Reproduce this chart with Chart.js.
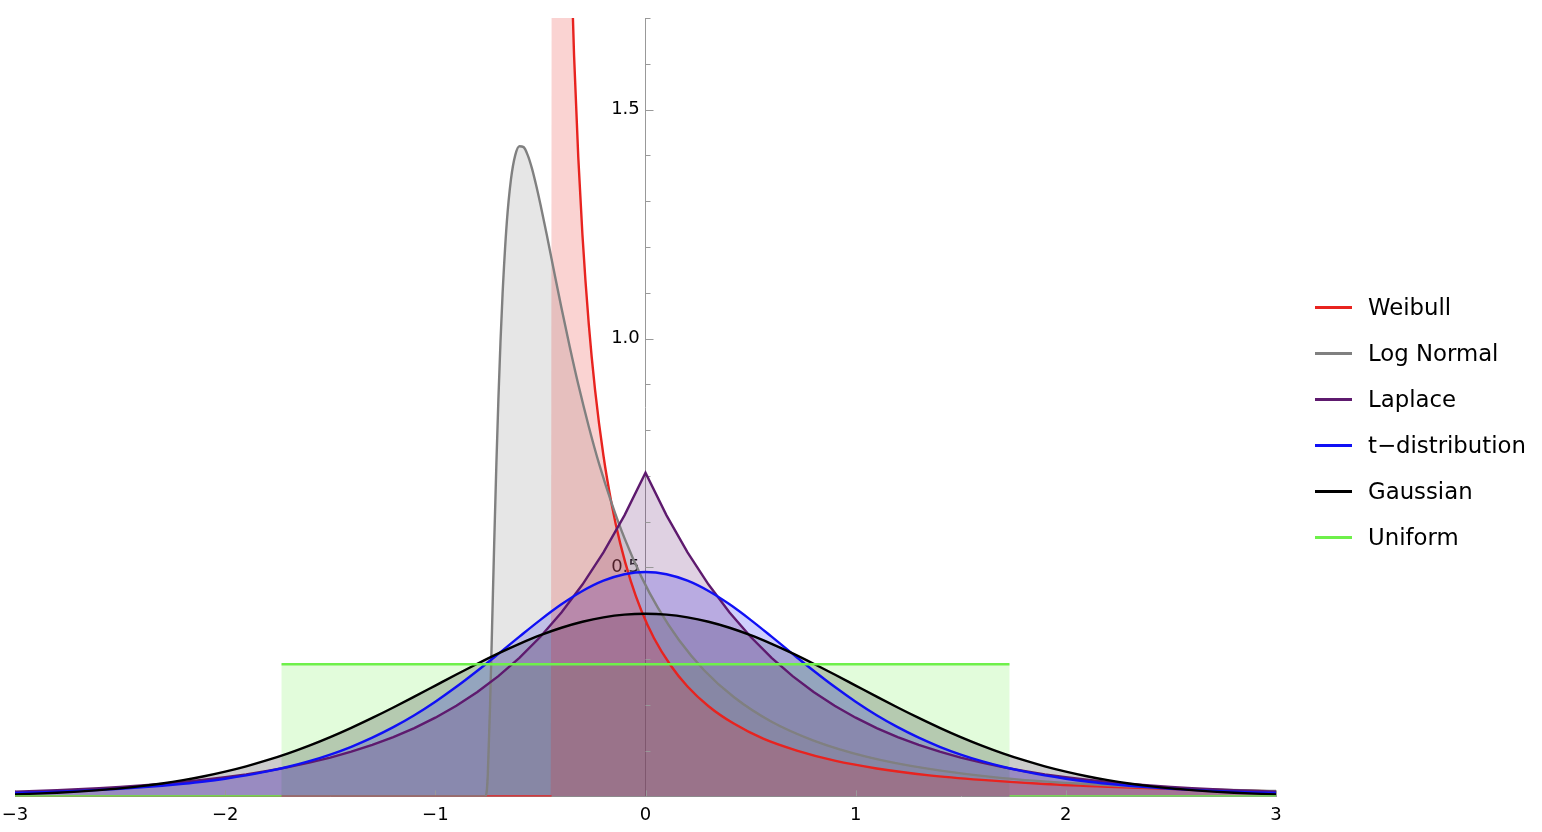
<!DOCTYPE html>
<html>
<head>
<meta charset="utf-8">
<script src="https://cdn.jsdelivr.net/npm/chart.js@4.4.1/dist/chart.umd.min.js"></script>
<style>
  body { margin: 0; background: #fff; }
  #wrap { position: relative; width: 1542px; height: 832px; }
  #legend { position: absolute; left: 1315px; top: 284px; font-family: 'DejaVu Sans'; font-size: 22.8px; color: #000; }
  #legend .item { height: 46px; display: flex; align-items: center; }
  #legend .swatch { width: 37px; height: 3px; margin-right: 16px; }
</style>
</head>
<body>
<div id="wrap">
  <canvas id="distChart" width="1542" height="832"></canvas>
  <div id="legend"></div>
</div>
<script>
// Series names and colours (legend order)
const seriesNames = ['Weibull', 'Log Normal', 'Laplace', 't\u2212distribution', 'Gaussian', 'Uniform'];
const lineColors = ['#e8231f', '#808080', '#5e1a6e', '#1010f5', '#000000', '#6ef04a'];
const fillColors = ['rgba(232,35,31,0.2)', 'rgba(128,128,128,0.2)', 'rgba(94,26,110,0.2)',
                    'rgba(16,16,245,0.2)', 'rgba(0,0,0,0.2)', 'rgba(110,240,74,0.2)'];

// Tick labels
const xTicks = [-3, -2, -1, 0, 1, 2, 3];
const yLabelTicks = [0.5, 1.0, 1.5];

// Symmetric curves sampled every 0.1 from -3 to 3
const gridX = [-3.0, -2.9, -2.8, -2.7, -2.6, -2.5, -2.4, -2.3, -2.2, -2.1, -2.0, -1.9, -1.8, -1.7, -1.6, -1.5,
  -1.4, -1.3, -1.2, -1.1, -1.0, -0.9, -0.8, -0.7, -0.6, -0.5, -0.4, -0.3, -0.2, -0.1, 0.0,
  0.1, 0.2, 0.3, 0.4, 0.5, 0.6, 0.7, 0.8, 0.9, 1.0, 1.1, 1.2, 1.3, 1.4, 1.5,
  1.6, 1.7, 1.8, 1.9, 2.0, 2.1, 2.2, 2.3, 2.4, 2.5, 2.6, 2.7, 2.8, 2.9, 3.0];

const gaussianY = [0.0044, 0.0060, 0.0079, 0.0104, 0.0136, 0.0175, 0.0224, 0.0283, 0.0355, 0.0440, 0.0540,
  0.0656, 0.0790, 0.0940, 0.1109, 0.1295, 0.1497, 0.1714, 0.1942, 0.2179, 0.2420, 0.2661, 0.2897, 0.3123,
  0.3332, 0.3521, 0.3683, 0.3814, 0.3910, 0.3970, 0.3989,
  0.3970, 0.3910, 0.3814, 0.3683, 0.3521, 0.3332, 0.3123, 0.2897, 0.2661, 0.2420, 0.2179, 0.1942, 0.1714,
  0.1497, 0.1295, 0.1109, 0.0940, 0.0790, 0.0656, 0.0540, 0.0440, 0.0355, 0.0283, 0.0224, 0.0175, 0.0136,
  0.0104, 0.0079, 0.0060, 0.0044];

const laplaceY = [0.0102, 0.0117, 0.0135, 0.0155, 0.0179, 0.0206, 0.0237, 0.0273, 0.0315, 0.0363, 0.0418,
  0.0481, 0.0555, 0.0639, 0.0736, 0.0848, 0.0976, 0.1125, 0.1296, 0.1492, 0.1719, 0.1980, 0.2281, 0.2627,
  0.3027, 0.3487, 0.4016, 0.4626, 0.5329, 0.6138, 0.7071,
  0.6138, 0.5329, 0.4626, 0.4016, 0.3487, 0.3027, 0.2627, 0.2281, 0.1980, 0.1719, 0.1492, 0.1296, 0.1125,
  0.0976, 0.0848, 0.0736, 0.0639, 0.0555, 0.0481, 0.0418, 0.0363, 0.0315, 0.0273, 0.0237, 0.0206, 0.0179,
  0.0155, 0.0135, 0.0117, 0.0102];

const studentY = [0.0077, 0.0089, 0.0104, 0.0121, 0.0142, 0.0167, 0.0197, 0.0232, 0.0275, 0.0325, 0.0386,
  0.0458, 0.0545, 0.0648, 0.0770, 0.0914, 0.1084, 0.1283, 0.1512, 0.1773, 0.2068, 0.2393, 0.2744, 0.3113,
  0.3488, 0.3855, 0.4194, 0.4485, 0.4710, 0.4852, 0.4901,
  0.4852, 0.4710, 0.4485, 0.4194, 0.3855, 0.3488, 0.3113, 0.2744, 0.2393, 0.2068, 0.1773, 0.1512, 0.1283,
  0.1084, 0.0914, 0.0770, 0.0648, 0.0545, 0.0458, 0.0386, 0.0325, 0.0275, 0.0232, 0.0197, 0.0167, 0.0142,
  0.0121, 0.0104, 0.0089, 0.0077];

// Log normal (shifted), zero left of -0.763
const logNormalX = [-3, -0.763, -0.755, -0.75, -0.74, -0.73, -0.72, -0.71, -0.70, -0.69, -0.68, -0.66, -0.64,
  -0.62, -0.60, -0.58, -0.56, -0.54, -0.52, -0.50, -0.47, -0.44, -0.40, -0.36, -0.32, -0.27, -0.22, -0.16,
  -0.10, -0.02, 0.06, 0.16, 0.28, 0.42, 0.60, 0.80, 1.05, 1.35, 1.70, 2.10, 2.50, 3.00];
const logNormalY = [0, 0, 0.013, 0.052, 0.192, 0.370, 0.551, 0.719, 0.867, 0.993, 1.098, 1.253, 1.348,
  1.400, 1.420, 1.418, 1.400, 1.371, 1.334, 1.293, 1.227, 1.158, 1.067, 0.981, 0.900, 0.808, 0.725, 0.639,
  0.564, 0.480, 0.411, 0.341, 0.275, 0.217, 0.163, 0.122, 0.087, 0.060, 0.040, 0.027, 0.018, 0.012];

// Weibull (shifted), zero left of -0.447, runs off the top just after it
const weibullX = [-3, -0.447, -0.446, -0.44, -0.42, -0.40, -0.38, -0.36, -0.34, -0.32, -0.30, -0.27, -0.24,
  -0.20, -0.16, -0.12, -0.07, -0.02, 0.04, 0.12, 0.20, 0.30, 0.42, 0.56, 0.72, 0.90, 1.10, 1.35, 1.60,
  1.90, 2.20, 2.60, 3.00];
const weibullY = [0, 0, 31.3, 10.59, 4.545, 3.083, 2.363, 1.921, 1.619, 1.397, 1.226, 1.032, 0.888,
  0.744, 0.636, 0.552, 0.470, 0.406, 0.346, 0.286, 0.240, 0.197, 0.159, 0.126, 0.100, 0.078, 0.061, 0.046,
  0.036, 0.027, 0.021, 0.015, 0.011];

// Uniform on [-1.732, 1.732]
const uniformX = [-3, -1.732, -1.7319, 1.7319, 1.732, 3];
const uniformY = [0, 0, 0.2887, 0.2887, 0, 0];

const toPoints = (xs, ys) => xs.map((x, i) => ({ x: x, y: ys[i] }));

const series = [
  { pts: toPoints(weibullX, weibullY), mode: 'monotone', hideJump: true },
  { pts: toPoints(logNormalX, logNormalY), mode: 'monotone', hideJump: false },
  { pts: toPoints(gridX, laplaceY), mode: 'default', hideJump: false },
  { pts: toPoints(gridX, studentY), mode: 'monotone', hideJump: false },
  { pts: toPoints(gridX, gaussianY), mode: 'monotone', hideJump: false },
  { pts: toPoints(uniformX, uniformY), mode: 'default', hideJump: true }
];

// vertical jumps are not stroked
const jumpColor = ctx => (ctx.p1.parsed.x - ctx.p0.parsed.x < 0.005 ? 'rgba(0,0,0,0)' : undefined);

const datasets = [];
// fills: Uniform at the bottom, Weibull on top
series.forEach((s, i) => {
  datasets.push({
    data: s.pts,
    borderWidth: 0,
    borderColor: 'rgba(0,0,0,0)',
    backgroundColor: fillColors[i],
    fill: 'origin',
    pointRadius: 0,
    cubicInterpolationMode: s.mode,
    tension: 0,
    order: i
  });
});
// lines: Weibull first, Uniform last
series.forEach((s, i) => {
  const ds = {
    label: seriesNames[i],
    data: s.pts,
    borderWidth: 2.4,
    borderColor: lineColors[i],
    fill: false,
    pointRadius: 0,
    cubicInterpolationMode: s.mode,
    tension: 0,
    order: 100 - i
  };
  if (s.hideJump) ds.segment = { borderColor: jumpColor };
  datasets.push(ds);
});

// Mathematica-style ticks pointing into the plot
const axisTicks = {
  id: 'axisTicks',
  beforeDatasetsDraw(chart) {
    const ctx = chart.ctx;
    const xs = chart.scales.x, ys = chart.scales.y;
    const x0 = xs.getPixelForValue(0);
    const y0 = ys.getPixelForValue(0);
    ctx.save();
    ctx.strokeStyle = '#999999';
    ctx.lineWidth = 1;
    ctx.beginPath();
    ys.ticks.forEach(t => {
      if (t.value < 0.05) return;
      const py = Math.round(ys.getPixelForValue(t.value)) + 0.5;
      const major = yLabelTicks.some(v => Math.abs(v - t.value) < 1e-6);
      ctx.moveTo(x0, py);
      ctx.lineTo(x0 + (major ? 8 : 5), py);
    });
    xTicks.forEach(v => {
      const px = Math.round(xs.getPixelForValue(v)) + 0.5;
      ctx.moveTo(px, y0);
      ctx.lineTo(px, y0 - 6);
    });
    ctx.stroke();
    ctx.restore();
  }
};

// no extra room for edge labels
const noEdgePadding = scale => {
  scale.paddingLeft = 0;
  scale.paddingRight = 0;
  scale.paddingTop = 0;
  scale.paddingBottom = 0;
};

Chart.defaults.font.family = 'DejaVu Sans';
Chart.defaults.color = '#000';

new Chart(document.getElementById('distChart'), {
  type: 'line',
  data: { datasets: datasets },
  plugins: [axisTicks],
  options: {
    responsive: false,
    animation: false,
    events: [],
    layout: { autoPadding: false, padding: { left: 15, right: 266, top: 18, bottom: -2 } },
    scales: {
      x: {
        type: 'linear',
        min: -3,
        max: 3,
        afterFit: noEdgePadding,
        grid: { display: true, drawOnChartArea: false, drawTicks: false },
        border: { display: true, color: '#999999', width: 1 },
        ticks: {
          stepSize: 1,
          padding: 8,
          font: { size: 18 },
          color: '#000',
          callback: v => (xTicks.includes(v) ? String(v).replace('-', '\u2212') : '')
        }
      },
      y: {
        type: 'linear',
        position: { x: 0 },
        min: 0,
        max: 1.7,
        afterFit: noEdgePadding,
        grid: { display: true, drawOnChartArea: false, drawTicks: false },
        border: { display: true, color: '#999999', width: 1 },
        ticks: {
          stepSize: 0.1,
          autoSkip: false,
          font: { size: 18 },
          color: '#000',
          // trailing space keeps the label clear of the axis line
          callback: v => (yLabelTicks.some(t => Math.abs(t - v) < 1e-6) ? v.toFixed(1) + ' ' : '')
        }
      }
    },
    plugins: {
      legend: { display: false },
      tooltip: { enabled: false },
      filler: { propagate: false, drawTime: 'beforeDatasetsDraw' }
    }
  }
});

// Legend
const legendBox = document.getElementById('legend');
seriesNames.forEach((name, i) => {
  const item = document.createElement('div');
  item.className = 'item';
  const sw = document.createElement('span');
  sw.className = 'swatch';
  sw.style.background = lineColors[i];
  const txt = document.createElement('span');
  txt.textContent = name;
  item.appendChild(sw);
  item.appendChild(txt);
  legendBox.appendChild(item);
});
</script>
</body>
</html>
